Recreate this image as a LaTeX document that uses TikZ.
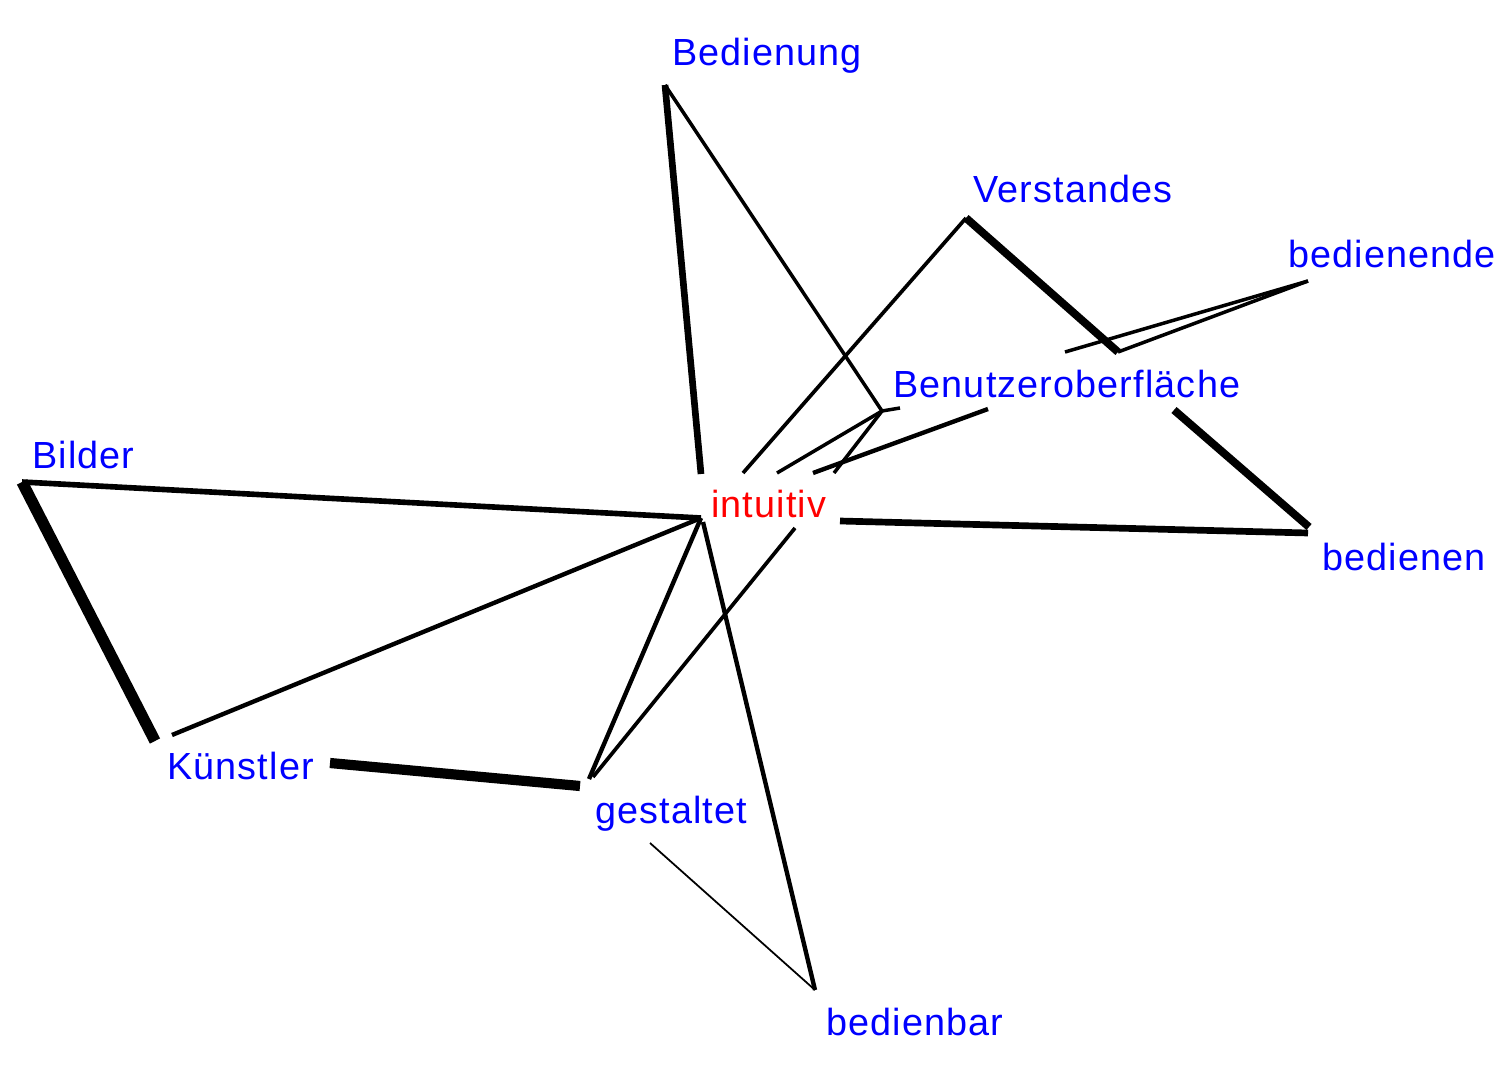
\documentclass[tikz,border=0pt]{standalone}
\usepackage{fontspec}
\newfontfamily\wordfont{Liberation Sans}[LetterSpace=3]
\definecolor{wordblue}{RGB}{0,0,255}
\definecolor{hubred}{RGB}{255,0,0}
\tikzset{
    word/.style={font=\wordfont\fontsize{21.5}{24}\selectfont, text=wordblue, inner sep=0pt, anchor=base west},
    hub/.style={word, text=hubred},
    link/.style={draw=black, line width=#1}
}

\begin{document}
\begin{tikzpicture}[x=0.02cm, y=-0.02cm]
    \useasboundingbox (0,0) rectangle (1506,1077);

    % Words
    \node [word] (bedienung) at (672,66) {Bedienung};
    \node [word] (verstandes) at (973,203) {Verstandes};
    \node [word] (bedienende) at (1288,268) {bedienende};
    \node [word] (benutzer) at (893,398) {Benutzeroberfläche};
    \node [word] (bilder) at (32,468) {Bilder};
    \node [hub] (intuitiv) at (711,517) {intuitiv};
    \node [word] (bedienen) at (1322,570) {bedienen};
    \node [word] (kuenstler) at (167,779) {Künstler};
    \node [word] (gestaltet) at (595,823) {gestaltet};
    \node [word] (bedienbar) at (826,1035) {bedienbar};

    % Line ends
    \coordinate (bdg) at (665,85);
    \coordinate (vst) at (966,218);
    \coordinate (bde) at (1308,281);
    \coordinate (bnz1) at (882,411);
    \coordinate (bnz0) at (900,408);
    \coordinate (bnz2) at (988,409);
    \coordinate (bnz3) at (1174,410);
    \coordinate (bnz4) at (1065,352);
    \coordinate (bnz5) at (1118,352);
    \coordinate (bdn1) at (1309,527);
    \coordinate (bdn2) at (1308,533);
    \coordinate (bld) at (22,482);
    \coordinate (kst1) at (155,741);
    \coordinate (kst2) at (172,735);
    \coordinate (kst3) at (330,763);
    \coordinate (gst1) at (580,786);
    \coordinate (gst2) at (589,779);
    \coordinate (gst3) at (593,777);
    \coordinate (gst4) at (650,843);
    \coordinate (bbr) at (815,990);
    \coordinate (int0) at (701,518);
    \coordinate (int1) at (701,474);
    \coordinate (int2) at (743,473);
    \coordinate (int3) at (777,473);
    \coordinate (int4) at (813,473);
    \coordinate (int5) at (834,473);
    \coordinate (int6) at (840,521);
    \coordinate (int7) at (795,528);
    \coordinate (int8) at (703,522);

    % Connections
    \draw [link=3.8pt] (bdg) -- (int1);
    \draw [link=2pt] (bdg) -- (bnz1);
    \draw [link=2pt] (bnz0) -- (bnz1) -- (int3);
    \draw [link=2pt] (bnz1) -- (int5);
    \draw [link=2.5pt] (bnz2) -- (int4);
    \draw [link=2.1pt] (vst) -- (int2);
    \draw [link=4.5pt] (vst) -- (bnz5);
    \draw [link=2pt] (bde) -- (bnz4);
    \draw [link=2pt] (bde) -- (bnz5);
    \draw [link=4.5pt] (bnz3) -- (bdn1);
    \draw [link=3.8pt] (int6) -- (bdn2);
    \draw [link=3.2pt] (bld) -- (int0);
    \draw [link=6.5pt] (bld) -- (kst1);
    \draw [link=2.5pt] (kst2) -- (int0);
    \draw [link=5.8pt] (kst3) -- (gst1);
    \draw [link=2.5pt] (gst2) -- (int0);
    \draw [link=2.1pt] (gst3) -- (int7);
    \draw [link=2.5pt] (int8) -- (bbr);
    \draw [link=1pt] (gst4) -- (bbr);
\end{tikzpicture}
\end{document}
